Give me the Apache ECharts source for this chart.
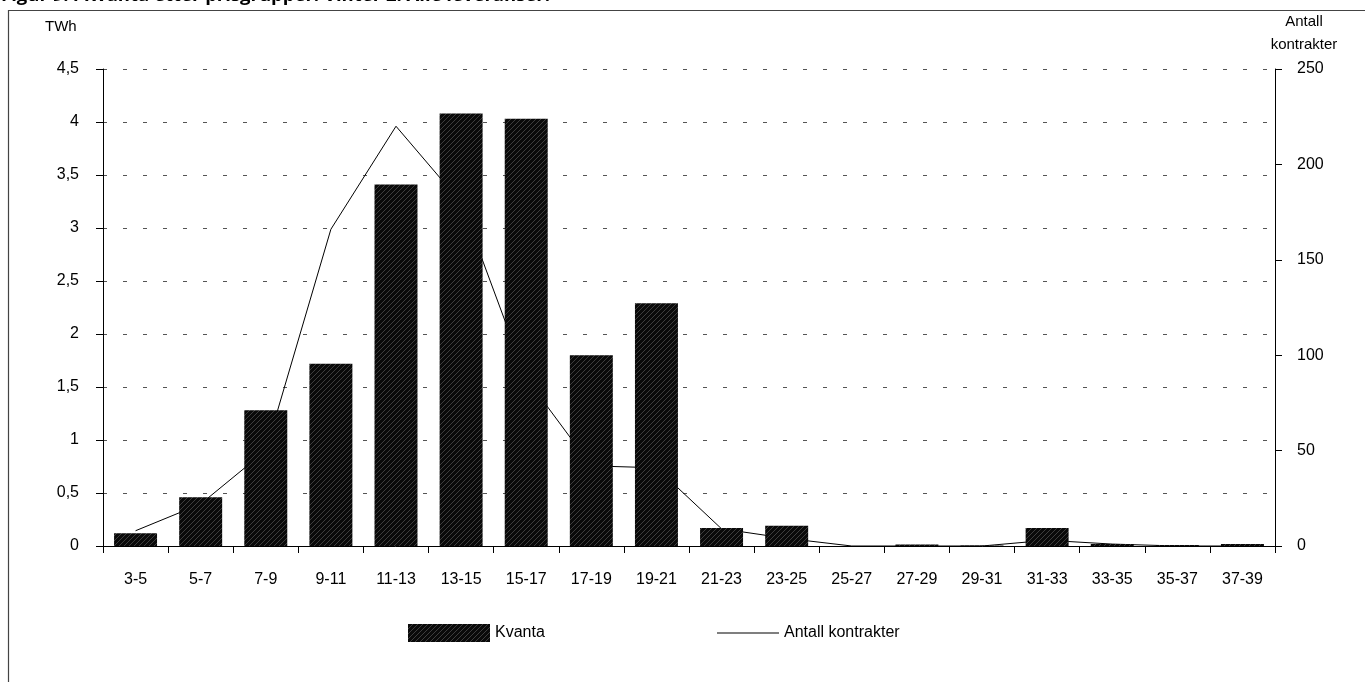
<!DOCTYPE html>
<html>
<head>
<meta charset="utf-8">
<script src="https://cdn.jsdelivr.net/npm/echarts@6/dist/echarts.min.js"></script>
<style>
  html, body { margin: 0; padding: 0; background: #fff; }
  #chart { width: 1365px; height: 682px; }
</style>
</head>
<body>
<div id="chart"></div>
<script>
// Price groups (øre/kWh) on the category axis
const categories = ['3-5', '5-7', '7-9', '9-11', '11-13', '13-15', '15-17', '17-19', '19-21',
  '21-23', '23-25', '25-27', '27-29', '29-31', '31-33', '33-35', '35-37', '37-39'];
// Volume per price group, TWh (left axis)
const kvanta = [0.12, 0.46, 1.28, 1.72, 3.41, 4.08, 4.03, 1.80, 2.29,
  0.17, 0.19, 0, 0.015, 0.005, 0.17, 0.02, 0.01, 0.02];
// Number of contracts per price group (right axis)
const kontrakter = [8, 22, 50, 166, 220, 180, 88, 42, 41,
  9, 4, 0, 0, 0, 3, 1, 0, 0];
// Axis tick ranges
const leftTicks = { min: 0, max: 4.5, step: 0.5 };
const rightTicks = { min: 0, max: 250, step: 50 };

// Hatched dark fill used for the bars
function hatchPattern() {
  const c = document.createElement('canvas');
  c.width = 5; c.height = 5;
  const g = c.getContext('2d');
  g.fillStyle = '#0a0a0a';
  g.fillRect(0, 0, 5, 5);
  g.strokeStyle = 'rgba(140,140,140,0.5)';
  g.lineWidth = 0.8;
  g.beginPath();
  g.moveTo(0, 5); g.lineTo(5, 0);
  g.stroke();
  return c;
}

const fontFamily = '"Liberation Sans", Arial, sans-serif';
const chart = echarts.init(document.getElementById('chart'));

chart.setOption({
  animation: false,
  backgroundColor: '#fff',
  textStyle: { fontFamily: fontFamily, color: '#000' },
  graphic: [
    { type: 'rect', shape: { x: 8.5, y: 10.5, width: 1420, height: 720 },
      style: { fill: 'none', stroke: '#444', lineWidth: 1.2 }, silent: true },
    { type: 'text', x: 1, y: -4,
      style: { text: 'Figur 9.4 Kvanta etter prisgrupper. Vinter 2. Alle leveranser.',
        font: 'bold 18.5px "Open Sans", "DejaVu Sans", sans-serif', fill: '#000', verticalAlign: 'middle' } },
    { type: 'text', x: 45, y: 27,
      style: { text: 'TWh', font: '15px ' + fontFamily, fill: '#000', verticalAlign: 'middle' } },
    { type: 'text', x: 1304, y: 22,
      style: { text: 'Antall', font: '15px ' + fontFamily, fill: '#000', align: 'center', verticalAlign: 'middle' } },
    { type: 'text', x: 1304, y: 45,
      style: { text: 'kontrakter', font: '15px ' + fontFamily, fill: '#000', align: 'center', verticalAlign: 'middle' } }
  ],
  grid: { left: 103, right: 90, top: 69, bottom: 136, containLabel: false },
  legend: [
    { data: [{ name: 'Kvanta', icon: 'rect' }], left: 403, top: 619, itemWidth: 82, itemHeight: 18,
      textStyle: { fontSize: 16, color: '#000', fontFamily: fontFamily } },
    { data: [{ name: 'Antall kontrakter', icon: 'rect' }], left: 712, top: 619, itemWidth: 62, itemHeight: 1,
      textStyle: { fontSize: 16, color: '#000', fontFamily: fontFamily, lineHeight: 18 } }
  ],
  xAxis: {
    type: 'category',
    data: categories,
    boundaryGap: true,
    axisLine: { lineStyle: { color: '#000', width: 1 } },
    axisTick: { show: true, length: 7, alignWithLabel: false, lineStyle: { color: '#000' } },
    axisLabel: { color: '#000', fontSize: 16, margin: 26 },
    splitLine: { show: false }
  },
  yAxis: [
    {
      type: 'value', min: leftTicks.min, max: leftTicks.max, interval: leftTicks.step,
      axisLine: { show: true, lineStyle: { color: '#000' } },
      axisTick: { show: true, length: 7, lineStyle: { color: '#000' } },
      axisLabel: { color: '#000', fontSize: 16, margin: 24,
        formatter: v => String(v).replace('.', ',') },
      splitLine: { show: true, lineStyle: { color: '#555', width: 1, type: [4, 16] } }
    },
    {
      type: 'value', min: rightTicks.min, max: rightTicks.max, interval: rightTicks.step,
      position: 'right',
      axisLine: { show: true, lineStyle: { color: '#000' } },
      axisTick: { show: true, length: 7, lineStyle: { color: '#000' } },
      axisLabel: { color: '#000', fontSize: 16, margin: 22 },
      splitLine: { show: false }
    }
  ],
  series: [
    {
      name: 'Antall kontrakter',
      type: 'line',
      yAxisIndex: 1,
      data: kontrakter,
      symbol: 'none',
      lineStyle: { color: '#000', width: 1 },
      itemStyle: { color: '#000' },
      z: 1
    },
    {
      name: 'Kvanta',
      type: 'bar',
      yAxisIndex: 0,
      data: kvanta,
      barCategoryGap: '34%',
      itemStyle: { color: { image: hatchPattern(), repeat: 'repeat' } },
      z: 2
    }
  ]
});
</script>
</body>
</html>
